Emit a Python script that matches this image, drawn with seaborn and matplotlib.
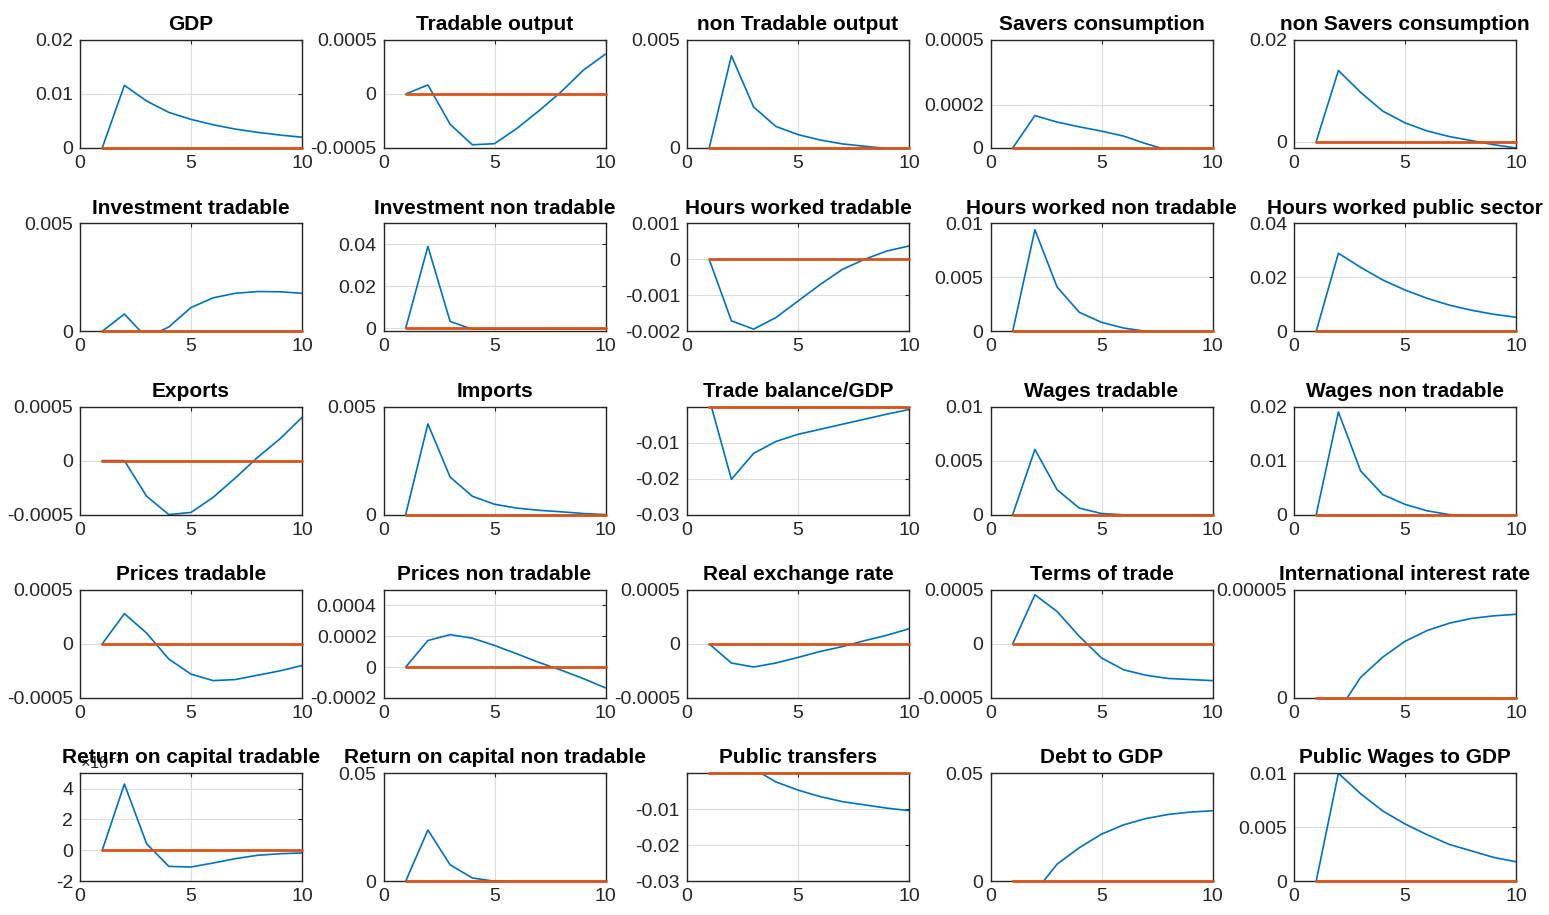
import numpy as np
import pandas as pd
import matplotlib
matplotlib.use("Agg")
import matplotlib.pyplot as plt
from matplotlib import font_manager
from matplotlib.ticker import FixedLocator, FuncFormatter
import seaborn as sns

# ---------------- data ----------------
periods = [1, 2, 3, 4, 5, 6, 7, 8, 9, 10]
steady_state = [0, 0, 0, 0, 0, 0, 0, 0, 0, 0]

titles = [
    "GDP", "Tradable output", "non Tradable output", "Savers consumption", "non Savers consumption",
    "Investment tradable", "Investment non tradable", "Hours worked tradable", "Hours worked non tradable", "Hours worked public sector",
    "Exports", "Imports", "Trade balance/GDP", "Wages tradable", "Wages non tradable",
    "Prices tradable", "Prices non tradable", "Real exchange rate", "Terms of trade", "International interest rate",
    "Return on capital tradable", "Return on capital non tradable", "Public transfers", "Debt to GDP", "Public Wages to GDP",
]

gdp = [0, 0.0116, 0.0087, 0.0066, 0.0053, 0.0043, 0.0035, 0.0029, 0.0024, 0.0020]
tradable_output = [0, 0.000084, -0.00028, -0.00047, -0.00046, -0.00032, -0.000156, 0.00002, 0.00022, 0.00037]
non_tradable_output = [0, 0.00427, 0.0019, 0.0010, 0.00062, 0.00037, 0.00019, 0.00008, -0.00002, -0.00006]
savers_consumption = [0, 0.00015, 0.00012, 0.000098, 0.000078, 0.000055, 0.00002, -0.00001, -0.00002, -0.00003]
non_savers_consumption = [0, 0.0140, 0.0097, 0.0060, 0.0037, 0.0021, 0.0010, 0.0002, -0.0006, -0.00125]
investment_tradable = [0, 0.0008, -0.0003, 0.0002, 0.0011, 0.00155, 0.00176, 0.00184, 0.00183, 0.00176]
investment_non_tradable = [0, 0.039, 0.0032, -0.0005, -0.0005, -0.0004, -0.0004, -0.0003, -0.0003, -0.0003]
hours_tradable = [0, -0.00171, -0.00194, -0.00162, -0.00116, -0.0007, -0.00028, 0.0, 0.00023, 0.00037]
hours_non_tradable = [0, 0.0094, 0.0041, 0.00176, 0.00083, 0.0003, 0.0, -0.0001, -0.0001, -0.0001]
hours_public = [0, 0.0289, 0.0237, 0.0190, 0.0153, 0.0122, 0.0097, 0.0078, 0.0063, 0.0052]
exports = [0, 0, -0.00033, -0.0005, -0.00048, -0.00034, -0.00016, 0.00003, 0.0002, 0.0004]
imports = [0, 0.0042, 0.00174, 0.00085, 0.00048, 0.0003, 0.0002, 0.00013, 0.00005, 0.0]
trade_balance = [0.0022, -0.0202, -0.0130, -0.0097, -0.0077, -0.0063, -0.0049, -0.0035, -0.0021, -0.0008]
wages_tradable = [0, 0.00604, 0.0023, 0.0006, 0.0001, -0.00002, -0.00003, -0.00003, -0.00002, -0.00002]
wages_non_tradable = [0, 0.019, 0.0081, 0.0037, 0.0019, 0.0007, 0.0, -0.0002, -0.0002, -0.0002]
prices_tradable = [0, 0.00028, 0.0001, -0.00014, -0.00028, -0.00034, -0.00033, -0.00029, -0.00025, -0.0002]
prices_non_tradable = [0, 0.000172, 0.00021, 0.000187, 0.00014, 0.000086, 0.00003, -0.00002, -0.000075, -0.000135]
real_exchange_rate = [0, -0.000177, -0.000214, -0.000177, -0.000125, -0.00007, -0.000025, 0.00003, 0.00008, 0.00014]
terms_of_trade = [0, 0.000455, 0.0003, 0.00007, -0.00013, -0.00024, -0.00029, -0.00032, -0.00033, -0.00034]
intl_interest_rate = [0, -0.0000062, 0.0000095, 0.0000189, 0.0000262, 0.0000312, 0.0000346, 0.0000368, 0.000038, 0.0000387]
return_capital_tradable = [0, 0.0043, 0.00043, -0.00104, -0.00108, -0.00082, -0.00054, -0.00032, -0.00022, -0.00017]
return_capital_non_tradable = [0, 0.0237, 0.0076, 0.0015, 0.0, -0.0002, -0.0002, -0.0002, -0.0002, -0.0002]
public_transfers = [0, 0.003, 0.0012, -0.0024, -0.0047, -0.0065, -0.0079, -0.0088, -0.0097, -0.0104]
debt_to_gdp = [0, -0.005, 0.0079, 0.0155, 0.0218, 0.0261, 0.0290, 0.0309, 0.0320, 0.0326]
public_wages_to_gdp = [0, 0.0100, 0.0081, 0.0065, 0.0053, 0.0043, 0.0034, 0.0028, 0.0022, 0.0018]

series = [
    gdp, tradable_output, non_tradable_output, savers_consumption, non_savers_consumption,
    investment_tradable, investment_non_tradable, hours_tradable, hours_non_tradable, hours_public,
    exports, imports, trade_balance, wages_tradable, wages_non_tradable,
    prices_tradable, prices_non_tradable, real_exchange_rate, terms_of_trade, intl_interest_rate,
    return_capital_tradable, return_capital_non_tradable, public_transfers, debt_to_gdp, public_wages_to_gdp,
]

y_limits = [
    (0, 0.02), (-0.0005, 0.0005), (0, 0.005), (0, 0.0005), (-0.00125, 0.02),
    (0, 0.005), (-0.0015, 0.05), (-0.002, 0.001), (0, 0.01), (0, 0.04),
    (-0.0005, 0.0005), (0, 0.005), (-0.03, 0), (0, 0.01), (0, 0.02),
    (-0.0005, 0.0005), (-0.0002, 0.0005), (-0.0005, 0.0005), (-0.0005, 0.0005), (0, 0.00005),
    (-0.002, 0.005), (0, 0.05), (-0.03, 0), (0, 0.05), (0, 0.01),
]

y_ticks = [
    [0, 0.01, 0.02], [-0.0005, 0, 0.0005], [0, 0.005], [0, 0.0002, 0.0005], [0, 0.02],
    [0, 0.005], [0, 0.02, 0.04], [-0.002, -0.001, 0, 0.001], [0, 0.005, 0.01], [0, 0.02, 0.04],
    [-0.0005, 0, 0.0005], [0, 0.005], [-0.03, -0.02, -0.01], [0, 0.005, 0.01], [0, 0.01, 0.02],
    [-0.0005, 0, 0.0005], [-0.0002, 0, 0.0002, 0.0004], [-0.0005, 0, 0.0005], [-0.0005, 0, 0.0005], [0, 0.00005],
    [-0.002, 0, 0.002, 0.004], [0, 0.05], [-0.03, -0.02, -0.01], [0, 0.05], [0, 0.005, 0.01],
]
x_ticks = [0, 5, 10]
scaled_panel = 20      # panel using a x10^-3 exponent label
scale_exponent = -3

# ---------------- style ----------------
sns.set_theme(style="white")
avail = {f.name for f in font_manager.fontManager.ttflist}
family = "Liberation Sans Narrow" if "Liberation Sans Narrow" in avail else "Liberation Sans"
plt.rcParams["font.family"] = [family, "DejaVu Sans"]
plt.rcParams["axes.unicode_minus"] = False
plt.rcParams["mathtext.fontset"] = "custom"
plt.rcParams["mathtext.rm"] = family
plt.rcParams["mathtext.default"] = "regular"

BLUE = "#0072BD"
ORANGE = "#D95319"
W, H = 1549, 915
fig = plt.figure(figsize=(W / 100, H / 100), dpi=100)

def fmt(v, pos=None):
    if abs(v) < 1e-15:
        return "0"
    return np.format_float_positional(v, trim="-")

def scaled_fmt(v, pos=None):
    return fmt(round(v / 10.0 ** scale_exponent, 10))

for k, (title, vals) in enumerate(zip(titles, series)):
    r, c = divmod(k, 5)
    left = (80 + 303.5 * c) / W
    bottom = 1 - (148 + 183.3 * r) / H
    ax = fig.add_axes([left, bottom, 222 / W, 108 / H])
    df = pd.DataFrame({"period": periods, "irf": vals, "ss": steady_state})
    sns.lineplot(data=df, x="period", y="irf", ax=ax, color=BLUE, lw=1.2, zorder=2)
    sns.lineplot(data=df, x="period", y="ss", ax=ax, color=ORANGE, lw=2.0,
                 zorder=3, clip_on=False)
    ax.set_xlim(0, 10)
    ax.set_ylim(*y_limits[k])
    ax.xaxis.set_major_locator(FixedLocator(x_ticks))
    ax.yaxis.set_major_locator(FixedLocator(y_ticks[k]))
    if k == scaled_panel:
        ax.yaxis.set_major_formatter(FuncFormatter(scaled_fmt))
        ax.text(0.0, 1.02, r"$\times10^{%d}$" % scale_exponent, transform=ax.transAxes,
                ha="left", va="bottom", fontsize=12, color="#262626")
    else:
        ax.yaxis.set_major_formatter(FuncFormatter(fmt))
    ax.xaxis.set_major_formatter(FuncFormatter(fmt))
    ax.set_xlabel("")
    ax.set_ylabel("")
    ax.grid(True, color="#dcdcdc", lw=0.8)
    ax.set_axisbelow(True)
    for s in ax.spines.values():
        s.set_color("#262626")
        s.set_linewidth(1.0)
        s.set_zorder(2.5)
    ax.tick_params(direction="in", top=True, right=True, length=3, width=0.8,
                   labelsize=14, colors="#262626", pad=5)
    ax.set_title(title, fontsize=15, fontweight="bold", color="black", pad=7, y=1.0)
    ax.set_facecolor("white")

fig.savefig("out.png", dpi=100, facecolor="white")
